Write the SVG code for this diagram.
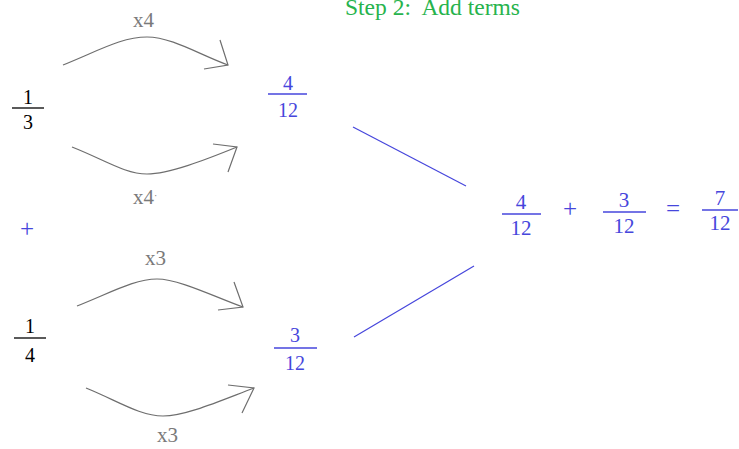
<svg xmlns="http://www.w3.org/2000/svg" width="739" height="449" viewBox="0 0 739 449">
<style>
text{font-family:"Liberation Serif","Times New Roman",serif;}
.k{fill:#000;font-size:20px;text-anchor:middle;}
.b{fill:#4646dc;font-size:20px;text-anchor:middle;}
.br{fill:#4646dc;font-size:21px;text-anchor:middle;}
.op{fill:#4646dc;font-size:25px;text-anchor:middle;}
.g{fill:#7a7a7a;font-size:21px;}
.t{fill:#27b34d;font-size:23.5px;}
.bar{stroke-width:1.3;}
.arc{fill:none;stroke:#6e6e6e;stroke-width:1.2;}
.ln{stroke:#4646dc;stroke-width:1.2;fill:none;}
</style>
<rect width="739" height="449" fill="#fff"/>
<text class="t" x="345" y="15" xml:space="preserve">Step 2:  Add terms</text>
<g id="frac13">
<text class="k" x="28" y="104">1</text>
<line class="bar" x1="12" y1="108" x2="44" y2="108" stroke="#000"/>
<text class="k" x="28" y="129">3</text>
</g>
<g id="frac412">
<text class="b" x="288" y="90">4</text>
<line class="bar" x1="268" y1="94" x2="307" y2="94" stroke="#4646dc"/>
<text class="b" x="288" y="117">12</text>
</g>
<g id="plus"><text class="op" x="27" y="237" font-size="23">+</text></g>
<g id="frac14">
<text class="k" x="30" y="333">1</text>
<line class="bar" x1="14" y1="338" x2="46" y2="338" stroke="#000"/>
<text class="k" x="30" y="362">4</text>
</g>
<g id="frac312">
<text class="b" x="295" y="342">3</text>
<line class="bar" x1="274" y1="348" x2="317" y2="348" stroke="#4646dc"/>
<text class="b" x="295" y="370">12</text>
</g>
<g id="result">
<text class="br" x="521" y="209">4</text>
<line class="bar" x1="502" y1="214" x2="541" y2="214" stroke="#4646dc"/>
<text class="br" x="521" y="235">12</text>
<text class="op" x="570" y="217">+</text>
<text class="br" x="624" y="207">3</text>
<line class="bar" x1="603" y1="212" x2="646" y2="212" stroke="#4646dc"/>
<text class="br" x="624" y="233">12</text>
<text class="op" x="673" y="217">=</text>
<text class="br" x="720" y="205">7</text>
<line class="bar" x1="702" y1="210" x2="738" y2="210" stroke="#4646dc"/>
<text class="br" x="720" y="230">12</text>
</g>
<g id="connectors">
<path class="arc" d="M63,65 C100,50 122,37 147,37 S200,55 228,65"/>
<polyline class="arc" points="220,40 228,65 204,69"/>
<path class="arc" d="M72,147 C105,160 125,174 147,174 S205,160 237,147"/>
<polyline class="arc" points="213,144 237,147 228,172"/>
<path class="arc" d="M77,306 C112,292 135,279 157,279 S215,297 243,307"/>
<polyline class="arc" points="234,282 243,307 218,310"/>
<path class="arc" d="M86,388 C118,401 140,416 163,416 S222,400 254,388"/>
<polyline class="arc" points="228,385 254,388 242,413"/>
<line class="ln" x1="353" y1="127" x2="466" y2="186"/>
<line class="ln" x1="354" y1="337" x2="474" y2="266"/>
</g>
<g id="labels">
<text class="g" x="133" y="27">x4</text>
<text class="g" x="133" y="204">x4<tspan font-size="10" dy="-5">·</tspan></text>
<text class="g" x="145" y="265">x3</text>
<text class="g" x="157" y="442">x3</text>
</g>
</svg>
